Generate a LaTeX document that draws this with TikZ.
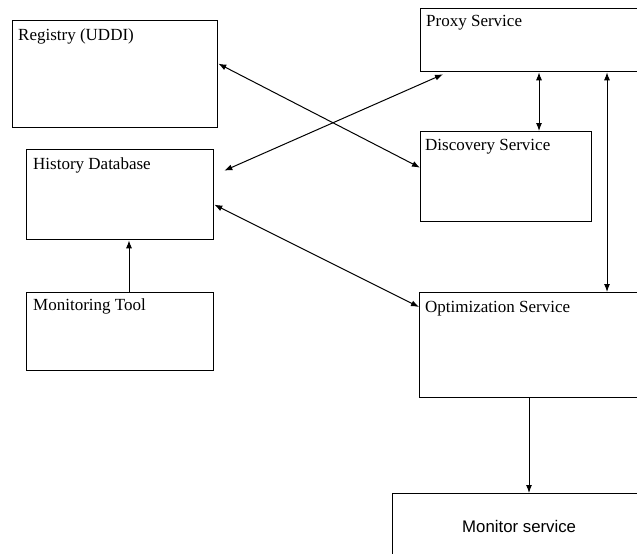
\documentclass[tikz,border=0pt]{standalone}
\usepackage{fontspec}
\setmainfont{Liberation Serif}
\newfontfamily\msfont{Liberation Sans}
\usetikzlibrary{arrows.meta}
\begin{document}
\begin{tikzpicture}[x=1pt,y=-1pt,
  box/.style={draw,line width=1.3pt,anchor=north west,inner sep=0pt,minimum width=#1},
  lbl/.style={anchor=base west,inner sep=0pt,font=\fontsize{17}{19}\selectfont},
  conn/.style={line width=1pt,{Latex[length=8pt,width=6pt]}-{Latex[length=8pt,width=6pt]}},
  oneway/.style={line width=1pt,-{Latex[length=8pt,width=6pt]}}]
\clip (0,0) rectangle (637,554);
\fill[white] (0,0) rectangle (637,554);
% boxes
\node[box=205pt,minimum height=107pt] (reg) at (12,20) {};
\node[box=187pt,minimum height=90pt] (hist) at (26,149) {};
\node[box=187pt,minimum height=78pt] (mon) at (26,292) {};
\node[box=240pt,minimum height=63pt] (proxy) at (420,8) {};
\node[box=171pt,minimum height=90pt] (disc) at (420,131) {};
\node[box=240pt,minimum height=105pt] (opt) at (419,292) {};
\node[box=260pt,minimum height=80pt] (ms) at (392,493) {};
% labels
\node[lbl] (regt) at ([xshift=6pt,yshift=-20pt]reg.north west) {Registry (UDDI)};
\node[lbl] (histt) at ([xshift=7pt,yshift=-20pt]hist.north west) {History Database};
\node[lbl] (mont) at ([xshift=7pt,yshift=-18pt]mon.north west) {Monitoring Tool};
\node[lbl] (proxyt) at ([xshift=6pt,yshift=-19pt]proxy.north west) {Proxy Service};
\node[lbl] (disct) at ([xshift=5pt,yshift=-19pt]disc.north west) {Discovery Service};
\node[lbl] (optt) at ([xshift=6pt,yshift=-20pt]opt.north west) {Optimization Service};
\node[lbl,font=\msfont\fontsize{16.8}{19}\selectfont] (mst) at ([xshift=70pt,yshift=-39pt]ms.north west) {Monitor service};
% connectors
\draw[conn] ([yshift=10.5pt]reg.east) -- ([yshift=9pt]disc.west);
\draw[conn] ([xshift=23pt,yshift=-2pt]proxy.south west) -- ([xshift=10pt,yshift=24pt]hist.east);
\draw[conn] ([yshift=-10pt]hist.east) -- ([yshift=-15pt]opt.north west);
\draw[conn] ([xshift=119pt]proxy.south west) -- ([xshift=119pt]disc.north west);
\draw[conn] ([xshift=187pt]proxy.south west) -- ([xshift=188pt]opt.north west);
\draw[oneway] ([xshift=103pt]mon.north west) -- ([xshift=103pt]hist.south west);
\draw[oneway] ([xshift=110pt]opt.south west) -- ([xshift=137pt]ms.north west);
\end{tikzpicture}
\end{document}
